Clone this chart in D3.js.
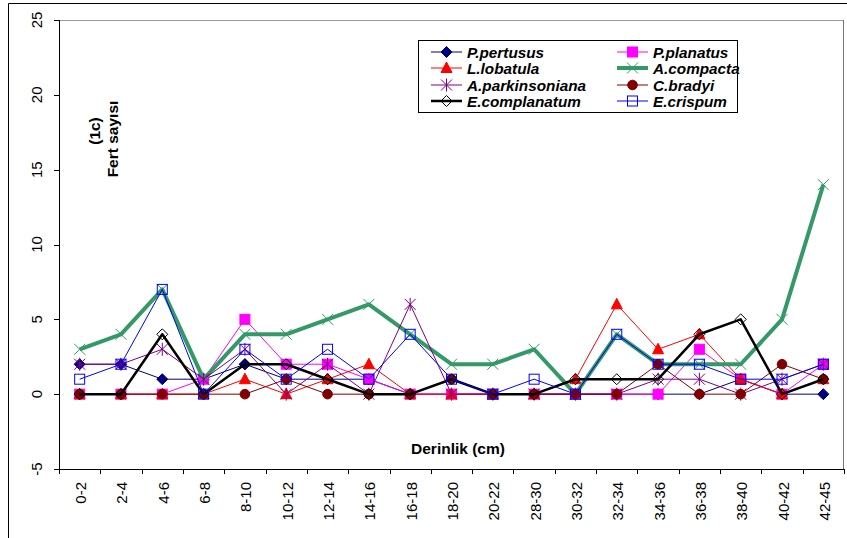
<html>
<head>
<script src="https://d3js.org/d3.v7.min.js"></script>
<style>
  body { margin: 0; background: white; }
  text { font-family: "Liberation Sans", Arial, sans-serif; }
</style>
</head>
<body>
<svg id="chart" width="847" height="538"></svg>
<script>
// depth classes (cm)
const depths = ["0-2","2-4","4-6","6-8","8-10","10-12","12-14","14-16","16-18","18-20",
                "20-22","28-30","30-32","32-34","34-36","36-38","38-40","40-42","42-45"];
const yTicks = [-5, 0, 5, 10, 15, 20, 25];

// counts per species
const pPertusus       = [2,2,1,1,2,1,1,1,0,0,0,0,0,0,0,0,1,0,0];
const pPlanatus       = [0,0,0,1,5,2,2,1,0,0,0,0,0,0,0,3,1,0,2];
const lLobatula       = [0,0,0,0,1,0,1,2,0,0,0,0,1,6,3,4,1,0,1];
const aCompacta       = [3,4,7,1,4,4,5,6,4,2,2,3,0,4,2,2,2,5,14];
const aParkinsoniana  = [2,2,3,1,3,0,2,0,6,0,0,0,0,0,1,1,0,1,2];
const cBradyi         = [0,0,0,0,0,1,0,0,0,1,0,0,0,0,2,0,0,2,1];
const eComplanatum    = [0,0,4,0,2,2,1,0,0,1,0,0,1,1,1,4,5,0,1];
const eCrispum        = [1,2,7,0,3,1,3,1,4,1,0,1,0,4,2,2,1,1,2];

const series = [
  {name: "P.pertusus",      values: pPertusus,      color: "#000080", width: 1,   marker: "diamond",  fill: "#000080"},
  {name: "P.planatus",      values: pPlanatus,      color: "#FF00FF", width: 1,   marker: "square",   fill: "#FF00FF"},
  {name: "L.lobatula",      values: lLobatula,      color: "#FF0000", width: 1,   marker: "triangle", fill: "#FF0000"},
  {name: "A.compacta",      values: aCompacta,      color: "#339966", width: 4,   marker: "x",        fill: "none"},
  {name: "A.parkinsoniana", values: aParkinsoniana, color: "#800080", width: 1,   marker: "star",     fill: "none"},
  {name: "C.bradyi",        values: cBradyi,        color: "#800000", width: 1,   marker: "circle",   fill: "#800000"},
  {name: "E.complanatum",   values: eComplanatum,   color: "#000000", width: 2.5, marker: "diamond",  fill: "none"},
  {name: "E.crispum",       values: eCrispum,       color: "#0000FF", width: 1,   marker: "square",   fill: "none"}
];

const svg = d3.select("#chart");
const plotLeft = 59, plotRight = 844, plotTop = 20, plotBottom = 469;

const x = d3.scalePoint().domain(depths).range([plotLeft, plotRight]).padding(0.5);
const y = d3.scaleLinear().domain([-5, 25]).range([plotBottom, plotTop]);
const step = x.step();

// outer frame (left and top edges visible)
svg.append("line").attr("x1", 8.5).attr("x2", 8.5).attr("y1", 3.5).attr("y2", 538).attr("stroke", "#000");
svg.append("line").attr("x1", 8.5).attr("x2", 847).attr("y1", 3.5).attr("y2", 3.5).attr("stroke", "#000");

// plot area border
svg.append("line").attr("x1", plotLeft).attr("x2", plotRight).attr("y1", plotTop + 0.5).attr("y2", plotTop + 0.5).attr("stroke", "#999");
svg.append("line").attr("x1", plotRight - 0.5).attr("x2", plotRight - 0.5).attr("y1", plotTop).attr("y2", plotBottom).attr("stroke", "#777");

// Y axis
svg.append("line").attr("x1", plotLeft + 0.5).attr("x2", plotLeft + 0.5).attr("y1", plotTop).attr("y2", plotBottom).attr("stroke", "#000");
yTicks.forEach(t => {
  svg.append("line").attr("x1", plotLeft - 5).attr("x2", plotLeft).attr("y1", Math.round(y(t)) + 0.5).attr("y2", Math.round(y(t)) + 0.5).attr("stroke", "#000");
  svg.append("text")
    .attr("transform", "translate(" + 42 + "," + y(t) + ") rotate(-90)")
    .attr("text-anchor", "middle")
    .attr("font-size", 15)
    .text(t);
});

// X axis
svg.append("line").attr("x1", plotLeft).attr("x2", plotRight).attr("y1", plotBottom + 0.5).attr("y2", plotBottom + 0.5).attr("stroke", "#000");
for (let k = 0; k <= depths.length; k++) {
  const tx = Math.round(plotLeft + k * step) + 0.5;
  svg.append("line").attr("x1", tx).attr("x2", tx).attr("y1", plotBottom).attr("y2", plotBottom + 5).attr("stroke", "#000");
}
depths.forEach(d => {
  svg.append("text")
    .attr("transform", "translate(" + (x(d) + 6.5) + "," + (plotBottom + 13) + ") rotate(-90)")
    .attr("text-anchor", "end")
    .attr("font-size", 15)
    .text(d);
});

// axis titles
svg.append("text").attr("x", 458).attr("y", 454).attr("text-anchor", "middle")
  .attr("font-size", 15.5).attr("font-weight", "bold").text("Derinlik (cm)");
svg.append("text").attr("transform", "translate(100,131) rotate(-90)").attr("text-anchor", "middle")
  .attr("font-size", 15.5).attr("font-weight", "bold").text("(1c)");
svg.append("text").attr("transform", "translate(118,139) rotate(-90)").attr("text-anchor", "middle")
  .attr("font-size", 15.5).attr("font-weight", "bold").text("Fert sayısı");

function drawMarker(g, type, cx, cy, s) {
  const color = s.color, fill = s.fill;
  if (type === "diamond") {
    g.append("path").attr("d", `M${cx},${cy-5.5}L${cx+5.5},${cy}L${cx},${cy+5.5}L${cx-5.5},${cy}Z`)
      .attr("fill", fill).attr("stroke", color).attr("stroke-width", 1);
  } else if (type === "square") {
    g.append("rect").attr("x", cx - 5).attr("y", cy - 5).attr("width", 10).attr("height", 10)
      .attr("fill", fill).attr("stroke", color).attr("stroke-width", 1);
  } else if (type === "triangle") {
    g.append("path").attr("d", `M${cx},${cy-6}L${cx+5.5},${cy+4.5}L${cx-5.5},${cy+4.5}Z`)
      .attr("fill", fill).attr("stroke", color);
  } else if (type === "circle") {
    g.append("circle").attr("cx", cx).attr("cy", cy).attr("r", 4.8).attr("fill", fill).attr("stroke", color);
  } else if (type === "x") {
    g.append("path").attr("d", `M${cx-5.5},${cy-5.5}L${cx+5.5},${cy+5.5}M${cx-5.5},${cy+5.5}L${cx+5.5},${cy-5.5}`)
      .attr("stroke", color).attr("stroke-width", 1).attr("fill", "none");
  } else if (type === "star") {
    g.append("path").attr("d", `M${cx-5.5},${cy-5.5}L${cx+5.5},${cy+5.5}M${cx-5.5},${cy+5.5}L${cx+5.5},${cy-5.5}M${cx},${cy-6.5}L${cx},${cy+6.5}`)
      .attr("stroke", color).attr("stroke-width", 1).attr("fill", "none");
  }
}

// series
const line = d3.line().x((v, i) => x(depths[i])).y(v => y(v));
series.forEach(s => {
  const g = svg.append("g");
  g.append("path").datum(s.values).attr("d", line)
    .attr("fill", "none").attr("stroke", s.color).attr("stroke-width", s.width).attr("stroke-linejoin", "round");
  s.values.forEach((v, i) => drawMarker(g, s.marker, x(depths[i]), y(v), s));
});

// legend
const lg = svg.append("g");
lg.append("rect").attr("x", 418.5).attr("y", 40.5).attr("width", 319).attr("height", 72)
  .attr("fill", "white").attr("stroke", "#000");
const rowsY = [52, 68, 85, 101];
series.forEach((s, i) => {
  const col = i % 2, row = Math.floor(i / 2);
  const lx = col === 0 ? 431 : 617;
  const ly = rowsY[row];
  lg.append("line").attr("x1", lx).attr("x2", lx + 31).attr("y1", ly).attr("y2", ly)
    .attr("stroke", s.color).attr("stroke-width", s.width);
  drawMarker(lg, s.marker, lx + 15.5, ly, s);
  lg.append("text").attr("x", lx + 36).attr("y", ly + 5.5)
    .attr("font-size", 15.3).attr("font-weight", "bold").attr("font-style", "italic")
    .text(s.name);
});
</script>
</body>
</html>
